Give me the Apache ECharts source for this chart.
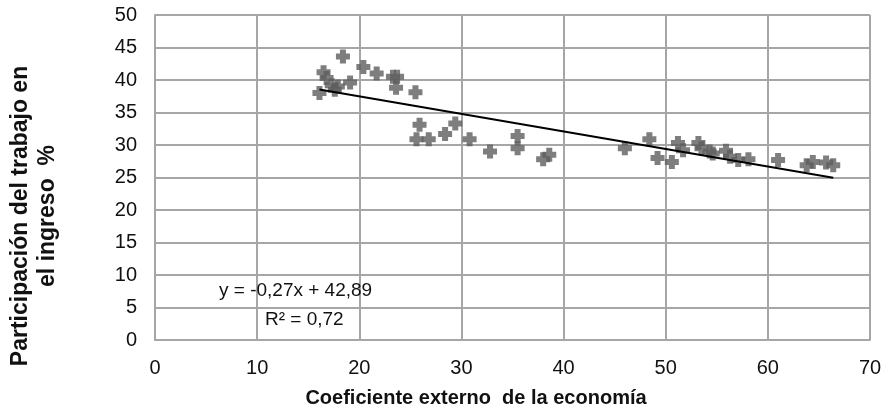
<!DOCTYPE html>
<html>
<head>
<meta charset="utf-8">
<script src="https://cdn.jsdelivr.net/npm/echarts@6/dist/echarts.min.js"></script>
<style>html,body{margin:0;padding:0;background:#fff}#c{width:892px;height:411px}</style>
</head>
<body>
<div id="c"></div>
<script>
var xValues = [18.4,16.5,16.8,17.3,17.9,19.1,16.1,17.6,20.4,21.7,23.3,23.7,23.6,25.5,
  25.9,25.6,26.8,28.4,29.4,30.8,32.8,35.5,35.5,38.0,38.6,
  46.0,48.4,49.2,50.6,51.2,51.7,53.2,53.5,54.3,54.6,55.9,56.3,57.1,58.1,
  61.0,63.8,64.4,65.7,66.4];
var yValues = [43.6,41.2,40.3,39.2,39.0,39.6,38.0,38.5,42.0,41.0,40.5,40.5,38.8,38.1,
  33.1,30.9,30.9,31.7,33.3,30.9,29.0,31.4,29.5,27.8,28.5,
  29.5,30.9,28.0,27.4,30.3,29.2,30.3,29.5,29.0,28.7,29.1,28.2,27.7,27.8,
  27.7,26.9,27.4,27.3,26.9];
var trendSlope = -0.27, trendIntercept = 42.89;
var trendRange = [16.1, 66.4];
var xTitle = 'Coeficiente externo  de la economía';
var yTitleLines = ['Participación del trabajo en', 'el ingreso  %'];
var eqText = 'y = -0,27x + 42,89';
var r2Text = 'R² = 0,72';

var pts = xValues.map(function(x,i){return [x, yValues[i]];});
var trend = trendRange.map(function(x){return [x, trendSlope*x + trendIntercept];});
var font = '"Liberation Sans", Arial, sans-serif';
var gridColor = '#a6a6a6';

function txt(x, y, text, size, bold, rot, align) {
  return {type: 'text', x: x, y: y, rotation: rot || 0, z: 10,
    style: {text: text, fontSize: size, fontFamily: font, fontWeight: bold ? 'bold' : 'normal',
      fill: '#111', align: align || 'left', verticalAlign: 'middle'}};
}

var chart = echarts.init(document.getElementById('c'));
chart.setOption({
  animation: false,
  grid: {left: 155, top: 15, right: 22, bottom: 71, containLabel: false},
  xAxis: {
    type: 'value', min: 0, max: 70, interval: 10,
    axisLine: {show: true, lineStyle: {color: gridColor, width: 2}},
    axisTick: {show: false},
    splitLine: {show: true, lineStyle: {color: gridColor, width: 2}},
    axisLabel: {color: '#111', fontSize: 20, fontFamily: font, margin: 18}
  },
  yAxis: {
    type: 'value', min: 0, max: 50, interval: 5,
    axisLine: {show: true, lineStyle: {color: gridColor, width: 2}},
    axisTick: {show: false},
    splitLine: {show: true, lineStyle: {color: gridColor, width: 2}},
    axisLabel: {color: '#111', fontSize: 20, fontFamily: font, margin: 18}
  },
  series: [
    {
      type: 'scatter', data: pts,
      symbol: 'path://M4,0H10V4H14V10H10V14H4V10H0V4H4Z',
      symbolSize: 14,
      itemStyle: {color: '#5e5e5e'}
    },
    {
      type: 'line', data: trend, showSymbol: false, symbol: 'none',
      lineStyle: {color: '#000', width: 2}, z: 5
    }
  ],
  graphic: [
    txt(476, 398, xTitle, 20, true, 0, 'center'),
    txt(21, 216, yTitleLines[0], 23, true, Math.PI/2, 'center'),
    txt(48, 216, yTitleLines[1], 23, true, Math.PI/2, 'center'),
    txt(219, 291, eqText, 19, false, 0, 'left'),
    txt(265, 320, r2Text, 19, false, 0, 'left')
  ]
});
</script>
</body>
</html>
